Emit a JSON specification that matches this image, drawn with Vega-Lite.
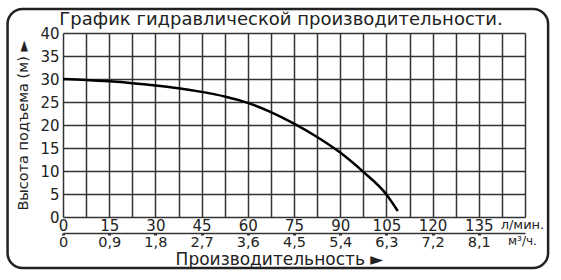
{
  "$schema": "https://vega.github.io/schema/vega-lite/v6.json",
  "width": 462,
  "height": 184,
  "autosize": {"type": "none"},
  "padding": {"top": 33, "left": 63, "right": 36, "bottom": 63},
  "background": "white",
  "config": {
    "font": "DejaVu Sans",
    "view": {"stroke": null},
    "axis": {"labelFont": "DejaVu Sans", "titleFont": "DejaVu Sans", "labelColor": "#222", "titleColor": "#222", "labelOverlap": false, "labelFlush": false, "labelBound": false}
  },
  "title": {"text": "График гидравлической производительности.", "font": "DejaVu Sans", "fontSize": 18, "fontWeight": "normal", "color": "#222", "anchor": "middle", "offset": -21, "dx": -13},
  "layer": [
    {
      "data": {"values": [{}]},
      "mark": {"type": "rect", "fill": "white", "fillOpacity": 0, "stroke": "#222", "strokeWidth": 2.5, "cornerRadius": 15, "clip": false},
      "encoding": {
        "x": {"datum": -18, "type": "quantitative", "scale": {"domain": [0, 150], "nice": false, "zero": false},
          "axis": {"orient": "bottom", "values": [0, 15, 30, 45, 60, 75, 90, 105, 120, 135, 149], "grid": false, "domain": false, "ticks": false, "labelFontSize": {"condition": {"test": "datum.value > 140", "value": 13}, "value": 15}, "labelPadding": 1, "labelExpr": "datum.value > 140 ? 'л/мин.' : datum.label", "title": null}},
        "x2": {"datum": 157.5},
        "y": {"datum": 45.2, "type": "quantitative", "scale": {"domain": [0, 40], "nice": false, "zero": false}, "axis": null},
        "y2": {"datum": -11.1}
      }
    },
    {
      "data": {"values": [
        {"q": 0, "h": 30}, {"q": 7.5, "h": 29.8}, {"q": 15, "h": 29.5}, {"q": 22.5, "h": 29.1},
        {"q": 30, "h": 28.6}, {"q": 37.5, "h": 28.0}, {"q": 45, "h": 27.2}, {"q": 52.5, "h": 26.2},
        {"q": 60, "h": 24.8}, {"q": 67.5, "h": 22.8}, {"q": 75, "h": 20.3}, {"q": 82.5, "h": 17.4},
        {"q": 90, "h": 14.0}, {"q": 97.5, "h": 9.8}, {"q": 105, "h": 4.9}, {"q": 108.7, "h": 1.3}
      ]},
      "mark": {"type": "line", "color": "black", "strokeWidth": 2.5, "interpolate": "monotone"},
      "encoding": {
        "x": {"field": "q", "type": "quantitative",
          "axis": {"orient": "bottom", "values": [0, 7.5, 15, 22.5, 30, 37.5, 45, 52.5, 60, 67.5, 75, 82.5, 90, 97.5, 105, 112.5, 120, 127.5, 135, 142.5, 150], "grid": true, "gridColor": "#333", "gridWidth": 1.5, "gridOpacity": 1, "labels": false, "ticks": false, "domain": false, "title": null}},
        "y": {"field": "h", "type": "quantitative",
          "axis": {"orient": "left", "values": [0, 5, 10, 15, 20, 25, 30, 35, 40], "grid": true, "gridColor": "#333", "gridWidth": 1.5, "gridOpacity": 1, "ticks": false, "domain": false, "labelFontSize": 15, "labelPadding": 4, "title": "Высота подъема (м) ►", "titleFontSize": 14.5, "titleFontWeight": "normal", "titlePadding": 9}}
      }
    },
    {
      "data": {"values": [{}]},
      "mark": {"type": "rule", "opacity": 0},
      "encoding": {
        "x": {"datum": 0, "type": "quantitative",
          "axis": {"orient": "bottom", "offset": 16, "values": [0, 15, 30, 45, 60, 75, 90, 105, 120, 135, 149], "grid": false, "domain": true, "domainColor": "#333", "domainWidth": 1.3, "ticks": true, "tickSize": 2, "tickWidth": 3, "tickOffset": 0, "tickColor": {"condition": {"test": "datum.value > 140", "value": "transparent"}, "value": "#333"}, "labelFontSize": {"condition": {"test": "datum.value > 140", "value": 12}, "value": 14.5}, "labelPadding": 0, "labelExpr": "datum.value > 140 ? 'м³/ч.' : (datum.value == 0 ? '0' : replace(format(datum.value * 0.06, '.1f'), '.', ','))", "title": "Производительность ►", "titleFontSize": 17, "titleFontWeight": "normal", "titlePadding": 3, "titleX": 216}}
      }
    }
  ],
  "resolve": {"axis": {"x": "independent", "y": "independent"}}
}
